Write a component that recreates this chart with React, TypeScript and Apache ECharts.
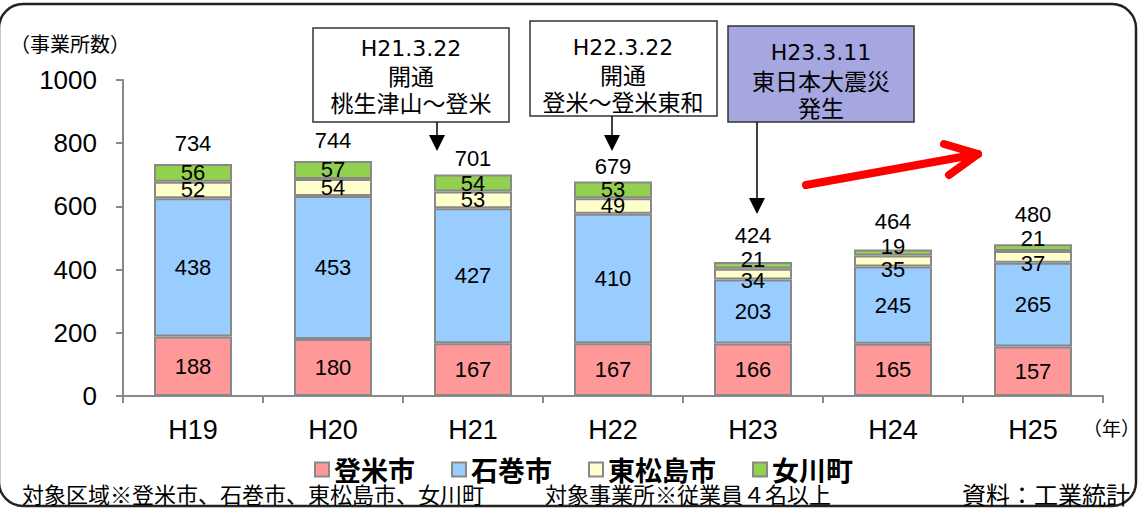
import React, { useEffect, useRef } from "react";
import * as echarts from "echarts";

// ---- data ----
const categories = ["H19", "H20", "H21", "H22", "H23", "H24", "H25"];
const tome = [188, 180, 167, 167, 166, 165, 157];
const ishinomaki = [438, 453, 427, 410, 203, 245, 265];
const higashimatsushima = [52, 54, 53, 49, 34, 35, 37];
const onagawa = [56, 57, 54, 53, 21, 19, 21];
const totals = [734, 744, 701, 679, 424, 464, 480];
const seriesNames = ["登米市", "石巻市", "東松島市", "女川町"];

// ---- styles ----
const NUM = "'Liberation Sans', Arial, 'Noto Sans CJK JP', sans-serif";
const JP = "'Noto Sans CJK JP', sans-serif";
const BOXLAT = "'DejaVu Sans', Verdana, sans-serif";
const colors = ["#FF9999", "#99CCFF", "#FFFFCC", "#92D050"];
const GRAY = "#898989";

// label nudges (pixels, style only)
const greenNudge = [0, 0, 0, 0, -6, -6, -9];
const yellowNudge = [0, 0, 0, 0, 6, 9, 7];
const totalNudge = [1, 2, 6, 7, -5, -6, -8];

function txt(text: string, x: number, y: number, size: number, family: string, align = "center", extra: any = {}) {
  return {
    type: "text",
    x,
    y,
    silent: true,
    style: {
      text,
      fill: "#000",
      fontSize: size,
      fontFamily: family,
      align,
      verticalAlign: "middle",
      textAlign: align,
      textVerticalAlign: "middle",
      ...extra,
    },
  };
}

export default function App() {
  const ref = useRef<HTMLDivElement>(null);

  useEffect(() => {
    document.body.style.margin = "0";
    if (!ref.current) return;
    const chart = echarts.init(ref.current, undefined, { renderer: "svg" });

    const labelBase = {
      show: true,
      position: "inside",
      fontSize: 22,
      color: "#000",
      fontFamily: NUM,
    };

    const mkBar = (name: string, values: number[], color: string, nudge?: number[]) => ({
      name,
      type: "bar",
      stack: "total",
      barWidth: 78,
      itemStyle: { color, borderColor: GRAY, borderWidth: 2 },
      label: labelBase,
      data: values.map((v, i) =>
        nudge && nudge[i] ? { value: v, label: { offset: [0, nudge[i]] } } : v
      ),
    });

    const boxStyle = { stroke: "#333", lineWidth: 1.5 };

    const option: any = {
      animation: false,
      grid: { left: 123, right: 37, top: 80, bottom: 112 },
      legend: {
        data: seriesNames,
        left: 309,
        top: 451,
        itemWidth: 14,
        itemHeight: 14,
        itemGap: 36,
        icon: "rect",
        textStyle: { fontSize: 27, fontWeight: "bold", fontFamily: JP, color: "#000" },
      },
      xAxis: {
        type: "category",
        data: categories,
        axisLine: { lineStyle: { color: GRAY, width: 2 } },
        axisTick: { show: true, length: 7, lineStyle: { color: GRAY, width: 2 } },
        axisLabel: { fontSize: 27, color: "#000", fontFamily: NUM, margin: 20 },
      },
      yAxis: {
        type: "value",
        min: 0,
        max: 1000,
        interval: 200,
        axisLine: { show: true, lineStyle: { color: GRAY, width: 2 } },
        axisTick: { show: true, length: 7, lineStyle: { color: GRAY, width: 2 } },
        splitLine: { show: false },
        axisLabel: {
          fontSize: 26,
          color: "#000",
          fontFamily: NUM,
          margin: 26,
          formatter: (v: number) => String(v),
        },
      },
      series: [
        mkBar(seriesNames[0], tome, colors[0]),
        mkBar(seriesNames[1], ishinomaki, colors[1]),
        mkBar(seriesNames[2], higashimatsushima, colors[2], yellowNudge),
        mkBar(seriesNames[3], onagawa, colors[3], greenNudge),
        {
          name: "合計",
          type: "scatter",
          data: totals.map((v, i) => ({ value: v, label: { offset: [0, totalNudge[i]] } })),
          symbolSize: 0,
          silent: true,
          itemStyle: { opacity: 1, color: "#000" },
          label: {
            show: true,
            position: "top",
            distance: 11,
            fontSize: 22,
            color: "#000",
            opacity: 1,
            fontFamily: NUM,
            formatter: (p: any) => String(p.value),
          },
        },
      ],
      graphic: [
        {
          type: "rect",
          silent: true,
          shape: { x: -1, y: 4, width: 1137, height: 502, r: 24 },
          style: { fill: "none", stroke: "#222", lineWidth: 2.5 },
        },
        txt("（事業所数）", 10, 43, 20, JP, "left"),
        txt("（年）", 1083, 427, 19, JP, "left"),
        txt("対象区域※登米市、石巻市、東松島市、女川町", 22, 493, 22, JP, "left"),
        txt("対象事業所※従業員４名以上", 545, 493, 22, JP, "left"),
        txt("資料：工業統計", 962, 493, 24, JP, "left"),
        // box 1
        { type: "rect", silent: true, shape: { x: 313, y: 28, width: 196, height: 94 }, style: { fill: "#fff", ...boxStyle } },
        txt("H21.3.22", 411, 48, 22, BOXLAT),
        txt("開通", 411, 75, 23, JP),
        txt("桃生津山～登米", 411, 102, 23, JP),
        { type: "line", silent: true, shape: { x1: 437, y1: 122, x2: 437, y2: 136 }, style: { stroke: "#000", lineWidth: 1.5 } },
        { type: "polygon", silent: true, shape: { points: [[429, 135], [445, 135], [437, 151]] }, style: { fill: "#000" } },
        // box 2
        { type: "rect", silent: true, shape: { x: 530, y: 21, width: 187, height: 95 }, style: { fill: "#fff", ...boxStyle } },
        txt("H22.3.22", 623, 47, 22, BOXLAT),
        txt("開通", 623, 74, 23, JP),
        txt("登米～登米東和", 623, 101, 23, JP),
        { type: "line", silent: true, shape: { x1: 612, y1: 116, x2: 612, y2: 136 }, style: { stroke: "#000", lineWidth: 1.5 } },
        { type: "polygon", silent: true, shape: { points: [[604, 135], [620, 135], [612, 151]] }, style: { fill: "#000" } },
        // box 3
        { type: "rect", silent: true, shape: { x: 728, y: 26, width: 186, height: 96 }, style: { fill: "#A6A6E0", ...boxStyle } },
        txt("H23.3.11", 821, 52, 22, BOXLAT),
        txt("東日本大震災", 821, 80, 23, JP),
        txt("発生", 821, 107, 23, JP),
        { type: "line", silent: true, shape: { x1: 757, y1: 122, x2: 757, y2: 199 }, style: { stroke: "#000", lineWidth: 1.5 } },
        { type: "polygon", silent: true, shape: { points: [[749, 198], [765, 198], [757, 214]] }, style: { fill: "#000" } },
        // red arrow
        {
          type: "polyline",
          silent: true,
          shape: { points: [[806, 185], [978, 154]] },
          style: { stroke: "#FF0000", lineWidth: 8, lineCap: "round", fill: "none" },
        },
        {
          type: "polyline",
          silent: true,
          shape: { points: [[944, 144], [978, 154], [949, 175]] },
          style: { stroke: "#FF0000", lineWidth: 8, lineCap: "round", lineJoin: "round", fill: "none" },
        },
      ],
    };

    chart.setOption(option);
    return () => chart.dispose();
  }, []);

  return <div ref={ref} style={{ width: 1140, height: 508 }} />;
}
